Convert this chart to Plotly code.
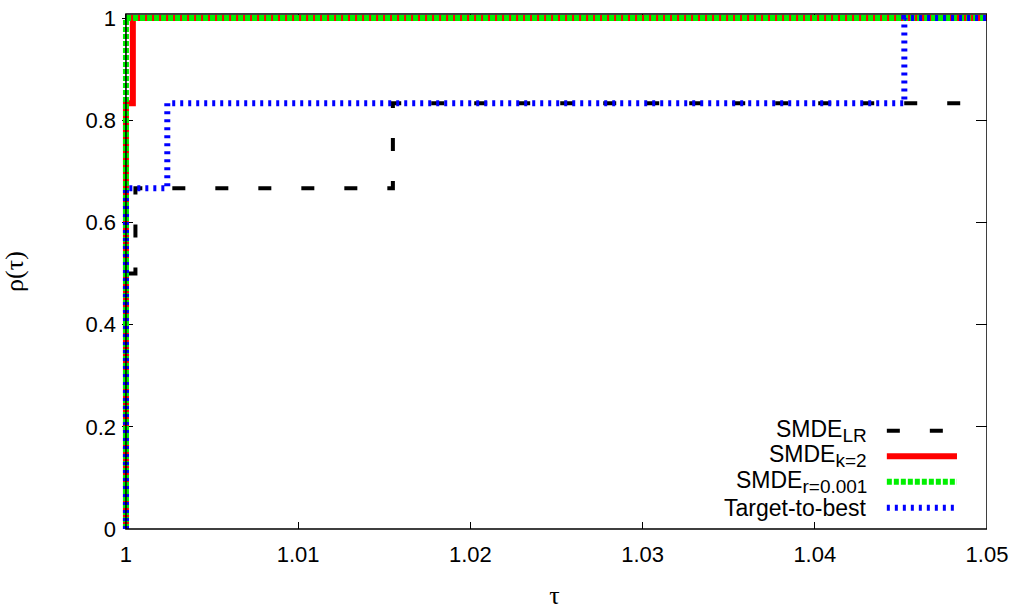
import plotly.graph_objects as go

# Performance profiles: tau (performance ratio) vs. rho(tau) (fraction of problems)
lr_tau = [1.0, 1.0, 1.00055, 1.00055, 1.0155, 1.0155, 1.05]
lr_rho = [0.0, 0.5, 0.5, 0.6667, 0.6667, 0.8333, 0.8333]

k2_tau = [1.0, 1.0, 1.0004, 1.0004, 1.05]
k2_rho = [0.0, 0.8333, 0.8333, 1.0, 1.0]

r001_tau = [1.0, 1.0, 1.05]
r001_rho = [0.0, 1.0, 1.0]

ttb_tau = [1.0, 1.0, 1.0024, 1.0024, 1.0452, 1.0452, 1.05]
ttb_rho = [0.0, 0.6667, 0.6667, 0.8333, 0.8333, 1.0, 1.0]

x_ticks = [1.0, 1.01, 1.02, 1.03, 1.04, 1.05]
x_tick_labels = ["1", "1.01", "1.02", "1.03", "1.04", "1.05"]
y_ticks = [0, 0.2, 0.4, 0.6, 0.8, 1.0]
y_tick_labels = ["0", "0.2", "0.4", "0.6", "0.8", "1"]

SUB = "<sub><span style='font-size:19px'>{}</span></sub>"
series = [
    ("SMDE" + SUB.format("LR"), lr_tau, lr_rho, "#000000", 4, "13px,30px"),
    ("SMDE" + SUB.format("k=2"), k2_tau, k2_rho, "#ff0000", 6, "solid"),
    ("SMDE" + SUB.format("r=0.001"), r001_tau, r001_rho, "#00f000", 6, "5px,2px"),
    ("Target-to-best", ttb_tau, ttb_rho, "#0000ff", 6, "3px,5px"),
]

TEXT_FONT = "Liberation Sans, Arial, sans-serif"
SYMBOL_FONT = "Liberation Serif, DejaVu Serif, serif"

fig = go.Figure()
for name, xs, ys, color, width, dash in series:
    fig.add_trace(go.Scatter(
        x=xs, y=ys, mode="lines", showlegend=False,
        line=dict(color=color, width=width, dash=dash),
    ))

# Key: right-aligned labels with line samples to their right
key_rows_y = [0.191, 0.1415, 0.0918, 0.0414]
for (name, xs, ys, color, width, dash), ky in zip(series, key_rows_y):
    fig.add_shape(type="line", xref="paper", yref="paper",
                  x0=0.8842, x1=0.9653, y0=ky, y1=ky,
                  line=dict(color=color, width=width, dash=dash))
    fig.add_annotation(xref="paper", yref="paper", x=0.8635, y=ky,
                       xanchor="right", yanchor="middle", showarrow=False,
                       text=name, font=dict(family=TEXT_FONT, size=23, color="black"))

# Border box starting exactly at tau = 1 (the plot area reaches a little further
# left so the thick curves on tau = 1 are not cut in half)
fig.add_shape(type="rect", xref="x", yref="paper",
              x0=x_ticks[0], x1=x_ticks[-1], y0=0, y1=1,
              line=dict(color="black", width=1.5), layer="above")

axis_common = dict(
    showline=False, mirror="ticks", automargin=False,
    ticks="inside", tickwidth=1, tickcolor="black",
    showgrid=False, zeroline=False, layer="below traces",
    tickfont=dict(family=TEXT_FONT, size=22, color="black"),
)

fig.update_xaxes(range=[0.99977, 1.05], tickvals=x_ticks, ticktext=x_tick_labels,
                 ticklen=7, ticklabelstandoff=10,
                 title=dict(text="τ", font=dict(family=SYMBOL_FONT, size=26, color="black"),
                            standoff=23),
                 **axis_common)
fig.update_yaxes(range=[0, 1.008], tickvals=y_ticks, ticktext=y_tick_labels,
                 ticklen=11, ticklabelstandoff=5,
                 title=dict(text="ρ(τ)", font=dict(family=SYMBOL_FONT, size=26, color="black"),
                            standoff=54),
                 **axis_common)

fig.update_layout(
    width=1021, height=610,
    margin=dict(l=122, r=34, t=14, b=81),
    plot_bgcolor="white", paper_bgcolor="white",
)

fig.write_html("out.html")
